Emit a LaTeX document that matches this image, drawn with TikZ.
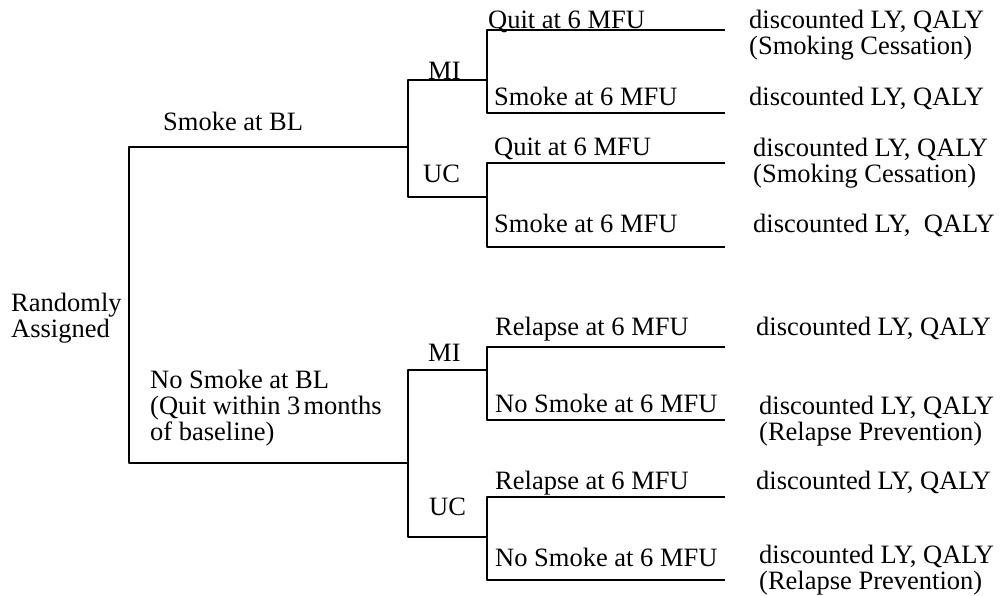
\documentclass[tikz,border=0pt]{standalone}
\usepackage{fontspec}
\setmainfont{Liberation Serif}
\begin{document}
\begin{tikzpicture}[line join=bevel,
  every node/.style={font=\fontsize{26.5bp}{26bp}\selectfont},
  lbl/.style={draw=none,anchor=base west,inner sep=0pt},
  blk/.style={draw=none,anchor=west,align=left,inner sep=0pt},
  tree/.style={black,line width=1.1bp}]
%%
\useasboundingbox (0bp,0bp) rectangle (1005bp,596bp);
\coordinate (root) at (129bp,291bp);
  \coordinate (smk) at (408bp,449bp);
  \coordinate (nsmk) at (408bp,133bp);
  \coordinate (smk_mi) at (487bp,516bp);
  \coordinate (smk_uc) at (487bp,399bp);
  \coordinate (nsmk_mi) at (487bp,226bp);
  \coordinate (nsmk_uc) at (487bp,59bp);
  \coordinate (end_1) at (725bp,566bp);
  \coordinate (end_2) at (725bp,483bp);
  \coordinate (end_3) at (725bp,433bp);
  \coordinate (end_4) at (725bp,349bp);
  \coordinate (end_5) at (725bp,249bp);
  \coordinate (end_6) at (725bp,176bp);
  \coordinate (end_7) at (725bp,99bp);
  \coordinate (end_8) at (725bp,16bp);
%
\draw [tree] (smk) -| (root) |- (nsmk);
  \draw [tree] (smk_mi) -| (smk) |- (smk_uc);
  \draw [tree] (nsmk_mi) -| (nsmk) |- (nsmk_uc);
  \draw [tree] (end_1) -| (smk_mi) |- (end_2);
  \draw [tree] (end_3) -| (smk_uc) |- (end_4);
  \draw [tree] (end_5) -| (nsmk_mi) |- (end_6);
  \draw [tree] (end_7) -| (nsmk_uc) |- (end_8);
%
\node (rand) at (11bp,278bp) [blk] {Randomly\\Assigned};
  \node (smk_bl) at (163bp,465bp) [lbl] {Smoke at BL};
  \node (nsmk_bl) at (150bp,188bp) [blk] {No Smoke at BL\\(Quit within 3\hspace{.12em}months\\of baseline)};
  \node (mi_1) at (428bp,516bp) [lbl] {MI};
  \node (uc_1) at (423bp,413bp) [lbl] {UC};
  \node (mi_2) at (428bp,234bp) [lbl] {MI};
  \node (uc_2) at (429bp,80bp) [lbl] {UC};
%
\node (quit_1) at (488bp,567bp) [lbl] {Quit at 6 MFU};
  \node (smoke_1) at (494bp,490bp) [lbl] {Smoke at 6 MFU};
  \node (quit_2) at (494bp,440bp) [lbl] {Quit at 6 MFU};
  \node (smoke_2) at (494bp,363bp) [lbl] {Smoke at 6 MFU};
  \node (relapse_1) at (495bp,260bp) [lbl] {Relapse at 6 MFU};
  \node (nosmoke_1) at (495bp,183bp) [lbl] {No Smoke at 6 MFU};
  \node (relapse_2) at (495bp,106bp) [lbl] {Relapse at 6 MFU};
  \node (nosmoke_2) at (495bp,30bp) [lbl] {No Smoke at 6 MFU};
%
\node (out_1) at (749bp,561bp) [blk] {discounted LY, QALY\\(Smoking Cessation)};
  \node (out_2) at (749bp,490bp) [lbl] {discounted LY, QALY};
  \node (out_3) at (753bp,433bp) [blk] {discounted LY, QALY\\(Smoking Cessation)};
  \node (out_4) at (753bp,363bp) [lbl] {discounted LY,~ QALY};
  \node (out_5) at (756bp,260bp) [lbl] {discounted LY, QALY};
  \node (out_6) at (759bp,175bp) [blk] {discounted LY, QALY\\(Relapse Prevention)};
  \node (out_7) at (756bp,106bp) [lbl] {discounted LY, QALY};
  \node (out_8) at (759bp,26bp) [blk] {discounted LY, QALY\\(Relapse Prevention)};
%
\end{tikzpicture}
\end{document}
